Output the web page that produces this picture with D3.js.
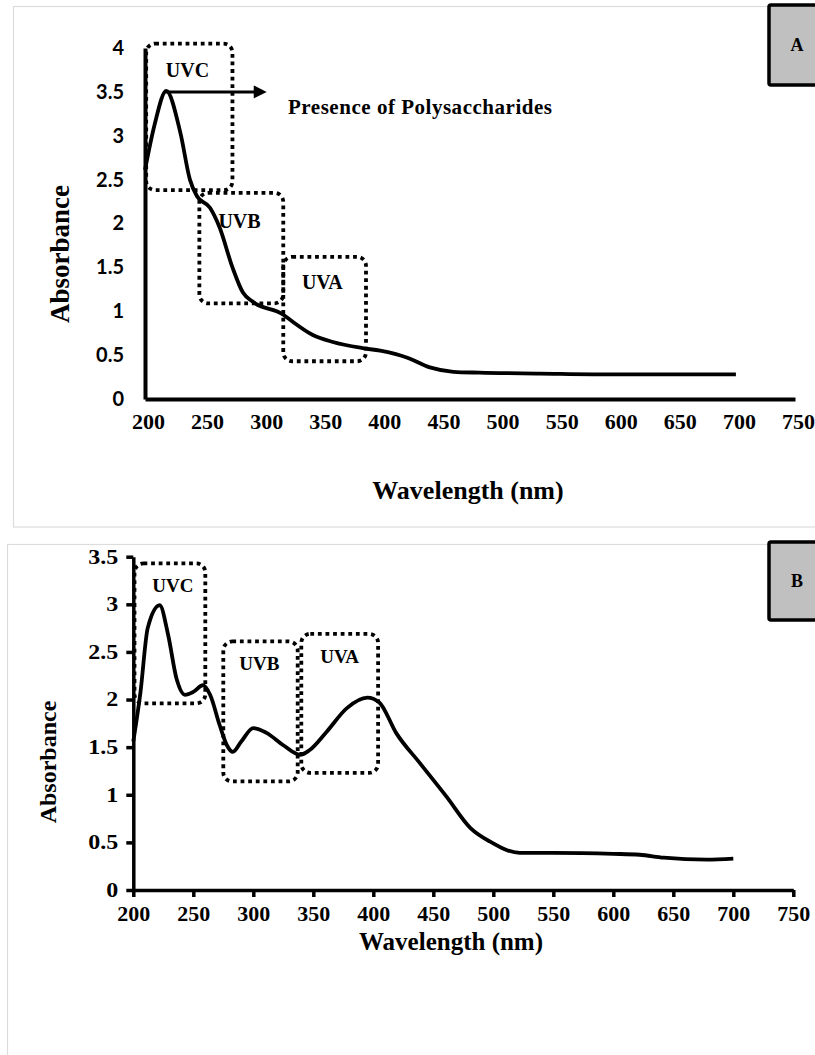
<!DOCTYPE html>
<html>
<head>
<meta charset="utf-8">
<script src="https://cdn.jsdelivr.net/npm/d3@7"></script>
<style>
body { margin: 0; background: #fff; }
</style>
</head>
<body>
<div id="chart-area"></div>
<script>
// Panel A spectrum
var wavelengthA = [200, 208, 218, 230, 238, 244, 255, 263, 274, 283, 291, 317, 323, 342, 359, 384, 399, 422, 441, 461, 483, 534, 600, 700];
var absorbanceA = [2.61, 3.12, 3.51, 3.03, 2.50, 2.31, 2.18, 1.96, 1.50, 1.21, 1.11, 0.96, 0.90, 0.73, 0.65, 0.58, 0.55, 0.47, 0.36, 0.31, 0.30, 0.29, 0.28, 0.28];

// Panel B spectrum
var wavelengthB = [200, 206, 212, 222, 229, 236, 243, 250, 258, 264, 272, 278, 283, 290, 300, 311, 325, 339, 347, 361, 378, 395, 405, 419, 439, 461, 481, 497, 522, 550, 600, 622, 642, 678, 700];
var absorbanceB = [1.56, 2.08, 2.75, 2.99, 2.68, 2.22, 2.05, 2.08, 2.15, 2.05, 1.73, 1.52, 1.45, 1.56, 1.70, 1.65, 1.52, 1.42, 1.47, 1.66, 1.91, 2.02, 1.97, 1.65, 1.33, 0.98, 0.65, 0.51, 0.39, 0.39, 0.38, 0.37, 0.34, 0.32, 0.33];

// tick labels
var wavelengthTicks = [200, 250, 300, 350, 400, 450, 500, 550, 600, 650, 700, 750];
var absTicksA = [0, 0.5, 1, 1.5, 2, 2.5, 3, 3.5, 4];
var absTicksB = [0, 0.5, 1, 1.5, 2, 2.5, 3, 3.5];

// UV regions: [nm from, nm to, abs low, abs high], label at [nm, abs]
var bandNames = ["UVC", "UVB", "UVA"];
var bandsA = [[201, 274, 2.38, 4.05], [246, 317, 1.09, 2.35], [317, 387, 0.43, 1.62]];
var bandLabelsA = [[236, 3.75], [280, 2.03], [350, 1.33]];
var bandsB = [[201, 260, 1.96, 3.43], [275, 337, 1.14, 2.61], [340, 404, 1.23, 2.69]];
var bandLabelsB = [[233, 3.20], [305, 2.38], [372, 2.45]];

// arrow in panel A: from peak to text
var arrowA = [[218, 3.5], [303, 3.5]];
var noteA = "Presence of Polysaccharides";

var serif = "'Liberation Serif', 'Times New Roman', serif";

var svg = d3.select("#chart-area")
    .append("svg")
    .attr("width", 815)
    .attr("height", 1055);

// light frames around the two panels
svg.append("rect")
    .attr("x", 13.5).attr("y", 6.5)
    .attr("width", 820).attr("height", 520.5)
    .attr("fill", "none").attr("stroke", "#dcdcdc").attr("stroke-width", 1.2);
svg.append("rect")
    .attr("x", 7.5).attr("y", 544.5)
    .attr("width", 830).attr("height", 530)
    .attr("fill", "none").attr("stroke", "#dcdcdc").attr("stroke-width", 1.2);

var line = function(x, y) {
    return d3.line()
        .x(function(d) { return x(d[0]); })
        .y(function(d) { return y(d[1]); })
        .curve(d3.curveMonotoneX);
};

var drawBands = function(g, x, y, bands, labels, fontSize) {
    g.selectAll(".band")
        .data(bands)
        .enter()
        .append("rect")
        .attr("class", "band")
        .attr("x", function(d) { return x(d[0]); })
        .attr("y", function(d) { return y(d[3]); })
        .attr("width", function(d) { return x(d[1]) - x(d[0]); })
        .attr("height", function(d) { return y(d[2]) - y(d[3]); })
        .attr("rx", 9)
        .attr("fill", "none")
        .attr("stroke", "#000")
        .attr("stroke-width", 3.8)
        .attr("stroke-dasharray", "3.8,3.8");

    g.selectAll(".bandLabel")
        .data(labels)
        .enter()
        .append("text")
        .attr("class", "bandLabel")
        .attr("x", function(d) { return x(d[0]); })
        .attr("y", function(d) { return y(d[1]); })
        .attr("dy", "0.35em")
        .attr("text-anchor", "middle")
        .style("font-family", serif)
        .style("font-weight", "bold")
        .style("font-size", fontSize + "px")
        .text(function(d, i) { return bandNames[i]; });
};

var drawTag = function(y0, h, label) {
    svg.append("rect")
        .attr("x", 769).attr("y", y0)
        .attr("width", 60).attr("height", h)
        .attr("rx", 2)
        .attr("fill", "#c0c0c0")
        .attr("stroke", "#000")
        .attr("stroke-width", 3.5);
    svg.append("text")
        .attr("x", 797).attr("y", y0 + h / 2)
        .attr("dy", "0.35em")
        .attr("text-anchor", "middle")
        .style("font-family", serif)
        .style("font-weight", "bold")
        .style("font-size", "18px")
        .text(label);
};

// ---------- Panel A ----------
var xA = d3.scaleLinear().domain([200, 750]).range([145, 795]);
var yA = d3.scaleLinear().domain([0, 4]).range([399, 48]);
var gA = svg.append("g");

drawBands(gA, xA, yA, bandsA, bandLabelsA, 20);

gA.append("path")
    .datum(d3.zip(wavelengthA, absorbanceA))
    .attr("d", line(xA, yA))
    .attr("fill", "none")
    .attr("stroke", "#000")
    .attr("stroke-width", 3.8);

// arrow + note
gA.append("line")
    .attr("x1", xA(arrowA[0][0])).attr("y1", yA(arrowA[0][1]))
    .attr("x2", xA(arrowA[1][0]) - 10).attr("y2", yA(arrowA[1][1]))
    .attr("stroke", "#000").attr("stroke-width", 3);
gA.append("path")
    .attr("d", "M" + xA(arrowA[1][0]) + "," + yA(arrowA[1][1]) +
        "l-13,-6.5v13z")
    .attr("fill", "#000");
gA.append("text")
    .attr("x", 288)
    .attr("y", yA(arrowA[1][1]) + 22)
    .attr("textLength", 264)
    .attr("lengthAdjust", "spacing")
    .style("font-family", serif)
    .style("font-weight", "bold")
    .style("font-size", "21px")
    .text(noteA);

var yAxisA = gA.append("g")
    .attr("transform", "translate(145,0)")
    .call(d3.axisLeft(yA).tickValues(absTicksA).tickSize(0).tickPadding(21)
        .tickFormat(function(d) { return d; }));
yAxisA.select(".domain").attr("stroke-width", 4);
yAxisA.selectAll("text")
    .style("font-family", "Lato, 'Open Sans', sans-serif")
    .style("font-weight", "bold")
    .style("font-size", "20px");

var xAxisA = gA.append("g")
    .attr("transform", "translate(0,399)")
    .call(d3.axisBottom(xA).tickValues(wavelengthTicks).tickSize(0).tickPadding(14));
xAxisA.select(".domain").attr("stroke-width", 4);
xAxisA.selectAll("text")
    .attr("dx", 3)
    .style("font-family", serif)
    .style("font-weight", "bold")
    .style("font-size", "22px");

gA.append("text")
    .attr("transform", "translate(60,254) rotate(-90)")
    .attr("dy", "0.35em")
    .attr("text-anchor", "middle")
    .style("font-family", serif)
    .style("font-weight", "bold")
    .style("font-size", "27px")
    .text("Absorbance");

gA.append("text")
    .attr("x", 468).attr("y", 490)
    .attr("dy", "0.35em")
    .attr("text-anchor", "middle")
    .style("font-family", serif)
    .style("font-weight", "bold")
    .style("font-size", "26px")
    .text("Wavelength (nm)");

drawTag(5, 80, "A");

// ---------- Panel B ----------
var xB = d3.scaleLinear().domain([200, 750]).range([133.3, 793.3]);
var yB = d3.scaleLinear().domain([0, 3.5]).range([890, 556.7]);
var gB = svg.append("g");

drawBands(gB, xB, yB, bandsB, bandLabelsB, 19);

gB.append("path")
    .datum(d3.zip(wavelengthB, absorbanceB))
    .attr("d", line(xB, yB))
    .attr("fill", "none")
    .attr("stroke", "#000")
    .attr("stroke-width", 3.8);

var yAxisB = gB.append("g")
    .attr("transform", "translate(133.3,0)")
    .call(d3.axisLeft(yB).tickValues(absTicksB).tickSize(7).tickSizeOuter(0)
        .tickFormat(function(d) { return d; }));
yAxisB.selectAll("line, .domain").attr("stroke-width", 3.5);
yAxisB.selectAll("text")
    .attr("x", -15 / 1.2)
    .attr("transform", "scale(1.2,1)")
    .style("font-family", serif)
    .style("font-weight", "bold")
    .style("font-size", "20px");

var xAxisB = gB.append("g")
    .attr("transform", "translate(0,890)")
    .call(d3.axisBottom(xB).tickValues(wavelengthTicks).tickSize(7).tickSizeOuter(0).tickPadding(8));
xAxisB.selectAll("line, .domain").attr("stroke-width", 3.5);
xAxisB.selectAll("text")
    .style("font-family", serif)
    .style("font-weight", "bold")
    .style("font-size", "22px");

gB.append("text")
    .attr("transform", "translate(48,762) rotate(-90)")
    .attr("dy", "0.35em")
    .attr("text-anchor", "middle")
    .style("font-family", serif)
    .style("font-weight", "bold")
    .style("font-size", "24px")
    .text("Absorbance");

gB.append("text")
    .attr("x", 451).attr("y", 941)
    .attr("dy", "0.35em")
    .attr("text-anchor", "middle")
    .style("font-family", serif)
    .style("font-weight", "bold")
    .style("font-size", "25px")
    .text("Wavelength (nm)");

drawTag(542, 78, "B");
</script>
</body>
</html>
